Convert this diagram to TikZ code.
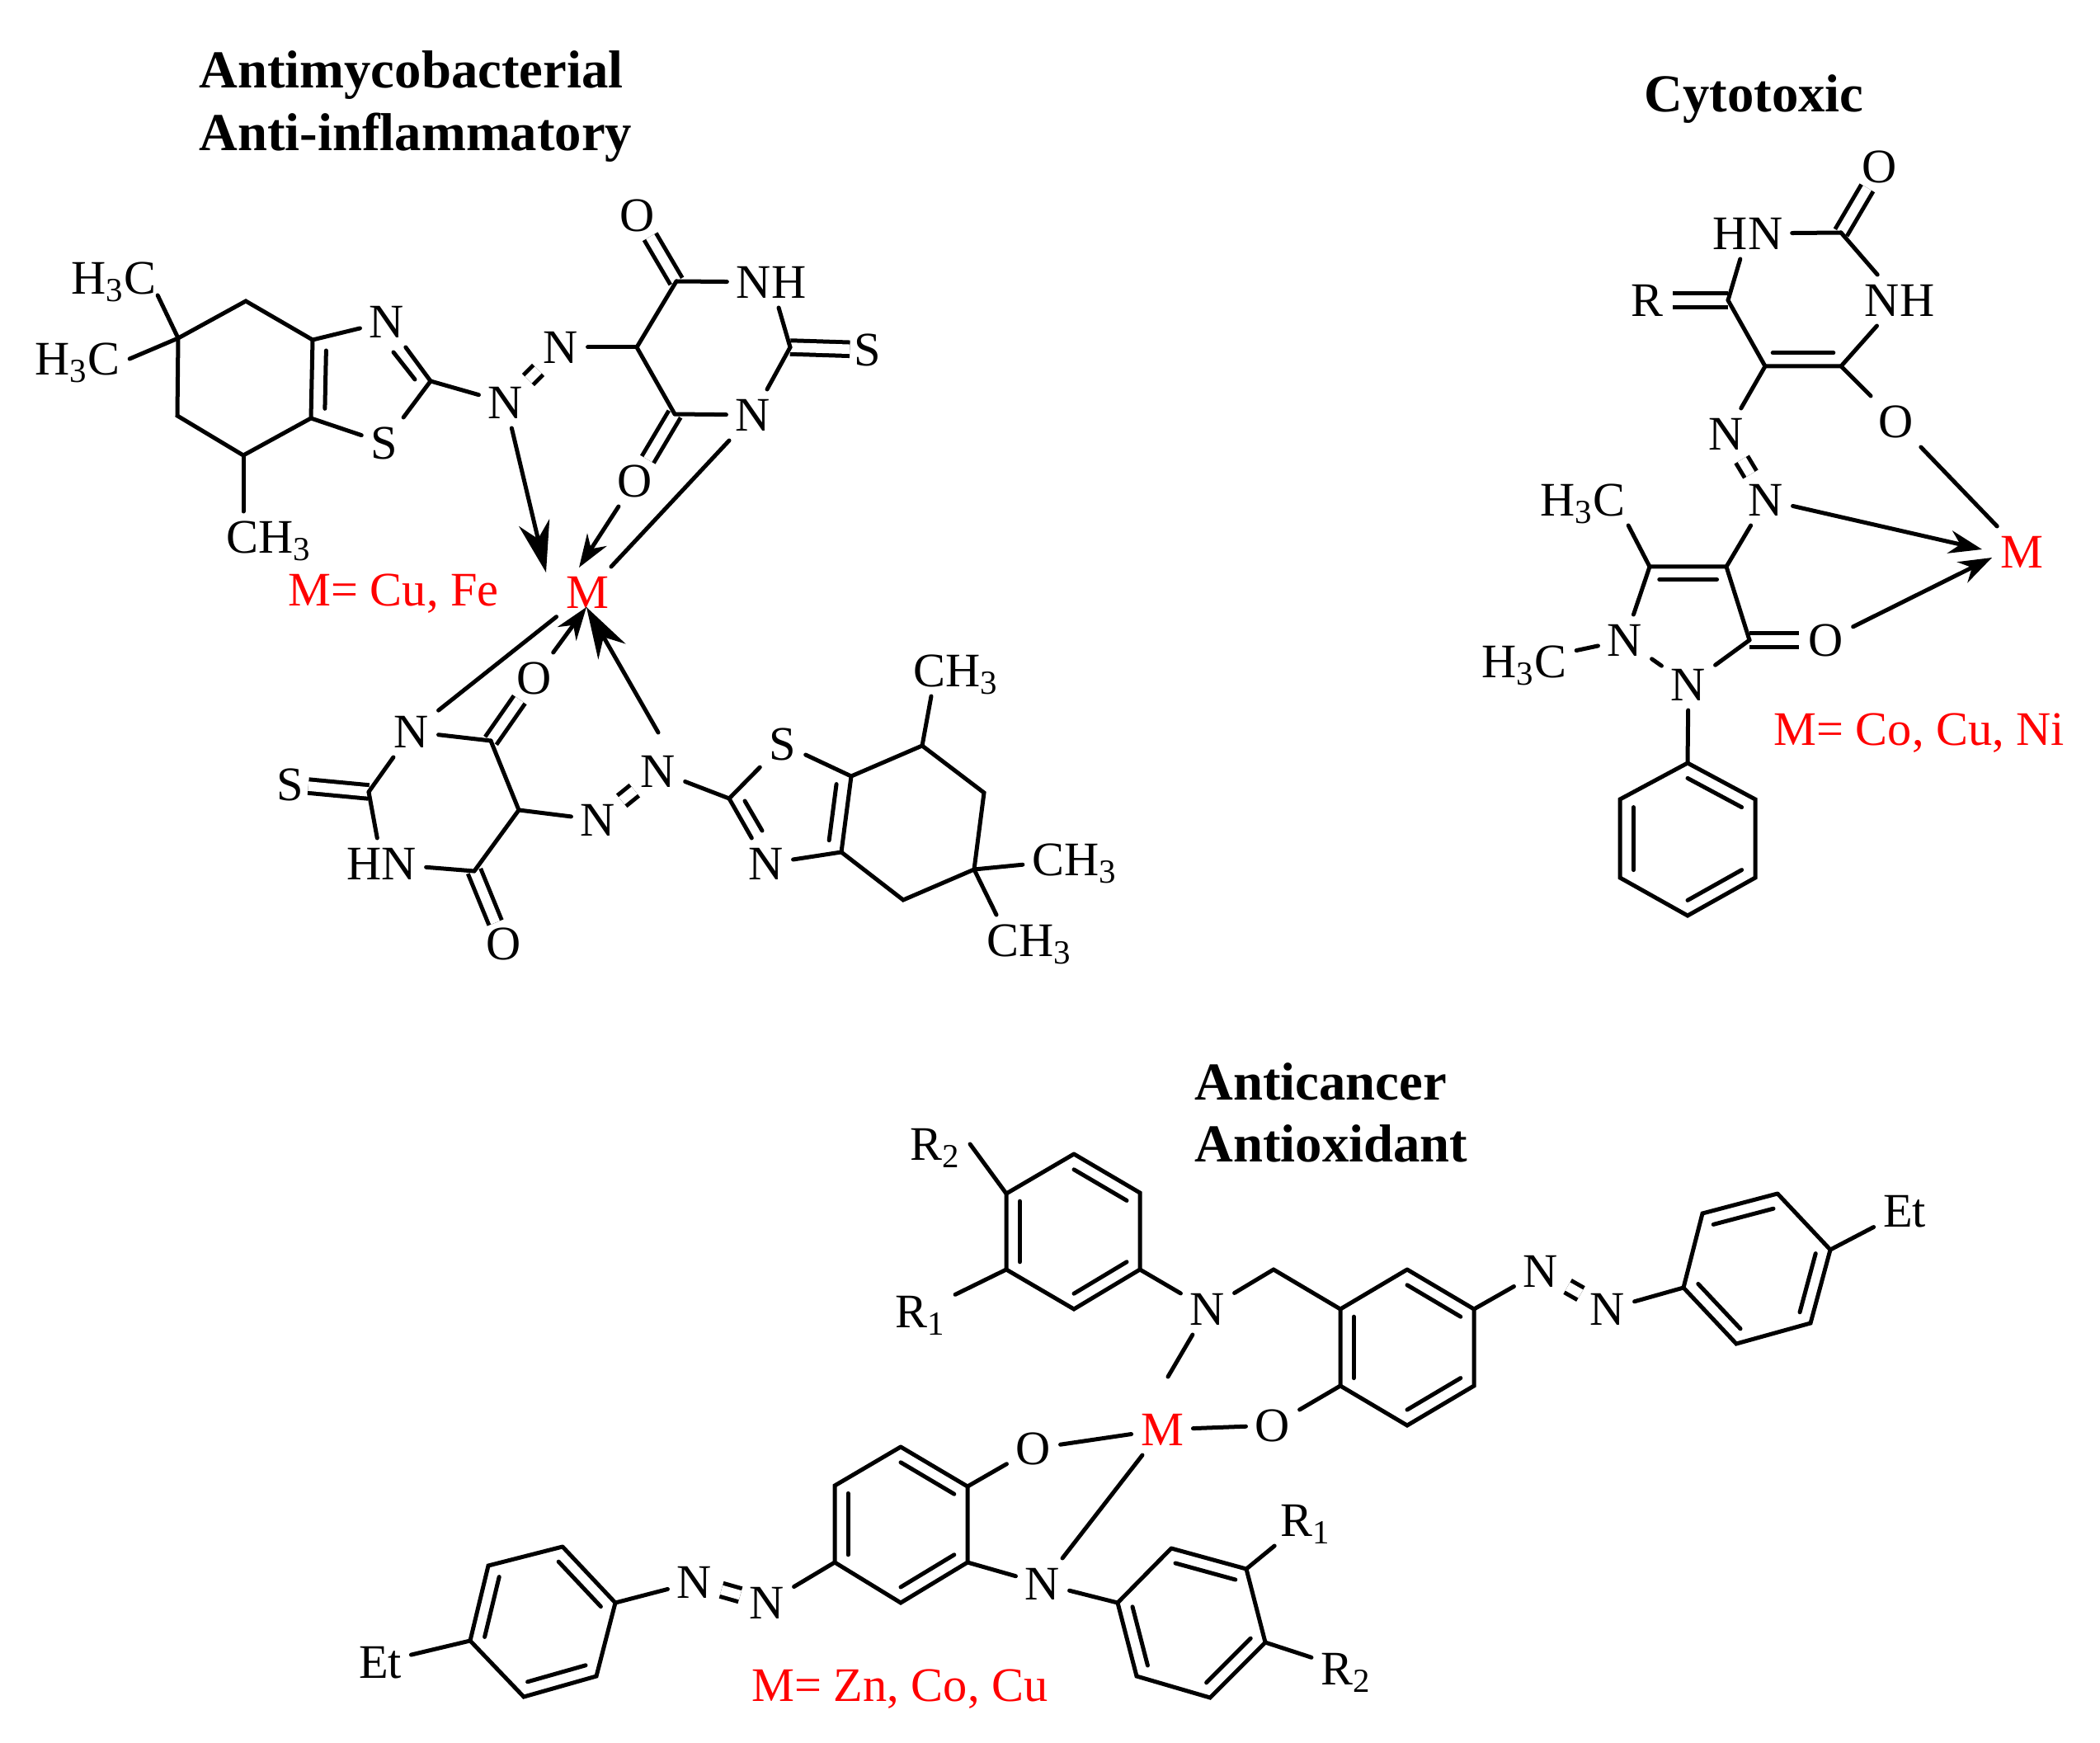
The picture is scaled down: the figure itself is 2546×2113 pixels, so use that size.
\documentclass[tikz,border=0pt]{standalone}
\usepackage{fontspec}
\setmainfont{Liberation Serif}
\usepackage{xcolor}
\usetikzlibrary{calc}
\usetikzlibrary{arrows.meta}
\tikzset{
	atom/.style={inner sep=0.09cm,text height=0.39cm,text depth=0cm,font=\fontsize{16.6}{19}\selectfont},
	metal/.style={atom,red},
	legend/.style={anchor=base west,inner sep=0pt,red,font=\fontsize{16.6}{19}\selectfont},
	title/.style={anchor=base west,inner sep=0pt,font=\fontsize{18.4}{22}\selectfont\bfseries},
	dbl/.style={double,double distance=0.115cm,line cap=butt},
	dblx/.style={dbl,shorten >=-0.06cm},
	azo/.style={dbl,shorten >=-0.05cm,shorten <=-0.05cm},
	bigtip/.style={-{Stealth[length=0.62cm,width=0.38cm]}},
	smalltip/.style={-{Stealth[length=0.4cm,width=0.28cm]}}
}
\begin{document}
\begin{tikzpicture}[x=0.01cm,y=-0.01cm,line width=0.05cm,line cap=round]
\useasboundingbox (0,0) rectangle (2546,2113);
\node[title] (T1) at (239,107) {Antimycobacterial};
\node[title] (T2) at (239,183) {Anti-inflammatory};
\node[title] (T3) at (1991,136) {Cytotoxic};
\node[title] (T4) at (1446,1333) {Anticancer};
\node[title] (T5) at (1446,1408) {Antioxidant};

\begin{scope}% complexe en haut a gauche
	\coordinate (A1) at (216,410);
	\coordinate (A2) at (298,365);
	\coordinate (A3) at (379,412);
	\coordinate (A4) at (377,507);
	\coordinate (A5) at (295,552);
	\coordinate (A6) at (215,504);
	\coordinate (A7) at (522,462);
	\coordinate (A8) at (772,421);
	\coordinate (A9) at (820,341);
	\coordinate (A10) at (958,421);
	\coordinate (A11) at (818,502);
	\coordinate (RA) at (442,462);
	\coordinate (IA) at (477,427);
	\coordinate (IB) at (503,460);
	\coordinate (TA) at (662,694);
	\coordinate (TB) at (702,688);
	\node[atom] (HA) at (138,337) {H\textsubscript{3}C};
	\node[atom] (HB) at (94,435) {H\textsubscript{3}C};
	\node[atom] (HC) at (326,651) {CH\textsubscript{3}};
	\node[atom] (NA) at (469,390) {N};
	\node[atom] (SA) at (466,537) {S};
	\node[atom] (NB) at (613,488) {N};
	\node[atom] (NC) at (680,421) {N};
	\node[atom] (OA) at (773,261) {O};
	\node[atom] (ND) at (935,342) {NH};
	\node[atom] (SB) at (1052,424) {S};
	\node[atom] (NE) at (913,503) {N};
	\node[atom] (OB) at (770,583) {O};
	\node[metal] (MA) at (712,718) {M};
	\node[legend] (LA) at (347,735) {M= Cu, Fe};
	\draw[azo] (NB)--(NC);
	\draw[dblx] (A9)--(OA);
	\draw[dblx] (A10)--(SB);
	\draw[dblx] (A11)--(OB);
	\draw (A1)--(A2)--(A3)--(A4)--(A5)--(A6)--(A1);
	\draw ($(A3)!.26!(RA)$)--($(A4)!.26!(RA)$);
	\draw (NA)--(A7);
	\draw (IA)--(IB);
	\draw (A1)--([shift={(-0.1cm,0.1cm)}]HA.south east);
	\draw (A1)--(HB.east);
	\draw (A5)--(A5 |- HC.north);
	\draw (A3)--(NA);
	\draw (A4)--(SA);
	\draw (SA)--(A7);
	\draw (A7)--(NB);
	\draw (NC)--(A8);
	\draw (A9)--(A8)--(A11);
	\draw (A9)--(ND);
	\draw (ND)--(A10);
	\draw (A10)--(NE);
	\draw (NE)--(A11);
	\draw[bigtip] (NB)--(TA);
	\draw[smalltip] (OB)--(TB);
	\draw (NE)--(MA);
\end{scope}

\begin{scope}% complexe du bas de la meme famille
	\coordinate (B1) at (1181,1054);
	\coordinate (B2) at (1193,961);
	\coordinate (B3) at (1118,904);
	\coordinate (B4) at (1032,941);
	\coordinate (B5) at (1020,1033);
	\coordinate (B6) at (1095,1091);
	\coordinate (B7) at (884,968);
	\coordinate (B8) at (629,982);
	\coordinate (B9) at (595,898);
	\coordinate (B10) at (447,960);
	\coordinate (B11) at (575,1056);
	\coordinate (RB) at (963,978);
	\coordinate (IC) at (903,971);
	\coordinate (ID) at (924,1007);
	\coordinate (TC) at (711,736);
	\node[atom] (HD) at (1159,813) {CH\textsubscript{3}};
	\node[atom] (HE) at (1303,1042) {CH\textsubscript{3}};
	\node[atom] (HF) at (1248,1140) {CH\textsubscript{3}};
	\node[atom] (SC) at (949,902) {S};
	\node[atom] (NF) at (929,1047) {N};
	\node[atom] (NG) at (798,935) {N};
	\node[atom] (NH) at (725,994) {N};
	\node[atom] (OC) at (648,822) {O};
	\node[atom] (NI) at (499,887) {N};
	\node[atom] (SD) at (352,951) {S};
	\node[atom] (NJ) at (463,1047) {HN};
	\node[atom] (OD) at (611,1144) {O};
	\draw[azo] (NG)--(NH);
	\draw[dblx] (B9)--(OC);
	\draw[dblx] (B10)--(SD);
	\draw[dblx] (B11)--(OD);
	\draw (B1)--(B2)--(B3)--(B4)--(B5)--(B6)--(B1);
	\draw ($(B4)!.26!(RB)$)--($(B5)!.26!(RB)$);
	\draw (B7)--(NF);
	\draw (IC)--(ID);
	\draw (B3)--([xshift=-0.3cm]HD.south);
	\draw (B1)--(HE);
	\draw (B1)--([xshift=-0.4cm]HF.north);
	\draw (B4)--(SC);
	\draw (SC)--(B7);
	\draw (NF)--(B5);
	\draw (B7)--(NG);
	\draw (NH)--(B8);
	\draw (B9)--(B8)--(B11);
	\draw (B9)--(NI);
	\draw (NI)--(B10);
	\draw (B10)--(NJ);
	\draw (NJ)--(B11);
	\draw[bigtip] ([yshift=0.16cm]NG.north)--(TC);
	\draw[smalltip] (OC)--(TC);
	\draw (NI)--(MA);
\end{scope}

\begin{scope}% complexe en haut a droite
	\coordinate (C1) at (2232,282);
	\coordinate (C2) at (2232,444);
	\coordinate (C3) at (2140,444);
	\coordinate (C4) at (2095,364);
	\coordinate (C5) at (2093,687);
	\coordinate (C6) at (2000,687);
	\coordinate (C7) at (2121,776);
	\coordinate (P1) at (2046,925);
	\coordinate (P2) at (2128,969);
	\coordinate (P3) at (2128,1064);
	\coordinate (P4) at (2046,1110);
	\coordinate (P5) at (1964,1064);
	\coordinate (P6) at (1964,969);
	\coordinate (RC) at (2186,363);
	\coordinate (RD) at (2047,749);
	\coordinate (RE) at (2046,1017);
	\coordinate (TD) at (2403,666);
	\coordinate (TE) at (2415,676);
	\node[atom] (OE) at (2279,202) {O};
	\node[atom] (NK) at (2119,283) {HN};
	\node[atom] (NL) at (2303,364) {NH};
	\node[atom] (RA1) at (1997,364) {R};
	\node[atom] (OF) at (2299,511) {O};
	\node[atom] (NM) at (2093,526) {N};
	\node[atom] (NN) at (2141,606) {N};
	\node[atom] (HG) at (1919,606) {H\textsubscript{3}C};
	\node[atom] (NO) at (1970,776) {N};
	\node[atom] (NP) at (2047,830) {N};
	\node[atom] (OG) at (2214,776) {O};
	\node[atom] (HH) at (1848,802) {H\textsubscript{3}C};
	\node[metal] (MB) at (2451,669) {M};
	\node[legend] (LB) at (2148,903) {M= Co, Cu, Ni};
	\draw[dblx] (C1)--(OE);
	\draw[dbl] (C4)--(RA1);
	\draw[dbl] (NM)--(NN);
	\draw[dbl] (C7)--(OG);
	\draw (C1)--(NK);
	\draw (NK)--(C4);
	\draw (C4)--(C3)--(C2);
	\draw (C1)--(NL);
	\draw (NL)--(C2);
	\draw ($(C3)!.2!(RC)$)--($(C2)!.2!(RC)$);
	\draw (C2)--(OF);
	\draw (C3)--(NM);
	\draw (NN)--(C5);
	\draw (C6)--(C5)--(C7);
	\draw ($(C6)!.25!(RD)$)--($(C5)!.25!(RD)$);
	\draw (C6)--([xshift=-0.08cm]HG.south east);
	\draw (C6)--(NO);
	\draw (NO)--(NP);
	\draw (NP)--(C7);
	\draw (NO)--(HH);
	\draw (NP)--(P1);
	\draw (P1)--(P2)--(P3)--(P4)--(P5)--(P6)--(P1);
	\foreach \a/\b in {P1/P2,P3/P4,P5/P6}
		\draw ($(\a)!.2!(RE)$)--($(\b)!.2!(RE)$);
	\draw[smalltip] (NN)--(TD);
	\draw[smalltip] (OG)--(TE);
	\draw (OF)--(MB);
\end{scope}

\begin{scope}% complexe du bas
	\coordinate (D1) at (1302,1399);
	\coordinate (D2) at (1382,1446);
	\coordinate (D3) at (1382,1539);
	\coordinate (D4) at (1302,1587);
	\coordinate (D5) at (1220,1539);
	\coordinate (D6) at (1220,1447);
	\coordinate (CH) at (1544,1539);
	\coordinate (E1) at (1706,1539);
	\coordinate (E2) at (1787,1587);
	\coordinate (E3) at (1787,1680);
	\coordinate (E4) at (1706,1728);
	\coordinate (E5) at (1625,1680);
	\coordinate (E6) at (1625,1587);
	\coordinate (F1) at (2155,1447);
	\coordinate (F2) at (2219,1515);
	\coordinate (F3) at (2195,1604);
	\coordinate (F4) at (2105,1629);
	\coordinate (F5) at (2041,1561);
	\coordinate (F6) at (2064,1471);
	\coordinate (G1) at (1092,1754);
	\coordinate (G2) at (1173,1802);
	\coordinate (G3) at (1173,1894);
	\coordinate (G4) at (1092,1943);
	\coordinate (G5) at (1012,1894);
	\coordinate (G6) at (1012,1801);
	\coordinate (K1) at (682,1875);
	\coordinate (K2) at (746,1943);
	\coordinate (K3) at (723,2032);
	\coordinate (K4) at (635,2057);
	\coordinate (K5) at (570,1989);
	\coordinate (K6) at (592,1898);
	\coordinate (L1) at (1420,1877);
	\coordinate (L2) at (1511,1902);
	\coordinate (L3) at (1534,1991);
	\coordinate (L4) at (1467,2058);
	\coordinate (L5) at (1378,2032);
	\coordinate (L6) at (1355,1943);
	\coordinate (RF) at (1302,1493);
	\coordinate (RG) at (1706,1633);
	\coordinate (RH) at (2130,1538);
	\coordinate (RI) at (1092,1848);
	\coordinate (RJ) at (658,1966);
	\coordinate (RK) at (1445,1967);
	\coordinate (TF) at (1416,1669);
	\node[atom] (RB2) at (1134,1387) {R\textsubscript{2}};
	\node[atom] (RB1) at (1116,1590) {R\textsubscript{1}};
	\node[atom] (NQ) at (1464,1587) {N};
	\node[atom] (NR) at (1868,1541) {N};
	\node[atom] (NS) at (1949,1587) {N};
	\node[atom] (EA) at (2309,1468) {Et};
	\node[metal] (MC) at (1409,1733) {M};
	\node[atom] (OH) at (1543,1728) {O};
	\node[atom] (OI) at (1253,1756) {O};
	\node[atom] (NT) at (1264,1920) {N};
	\node[atom] (NU) at (842,1918) {N};
	\node[atom] (NV) at (930,1943) {N};
	\node[atom] (EB) at (461,2015) {Et};
	\node[atom] (RC1) at (1583,1843) {R\textsubscript{1}};
	\node[atom] (RC2) at (1632,2023) {R\textsubscript{2}};
	\node[legend] (LC) at (909,2062) {M= Zn, Co, Cu};
	\draw[dbl] (NR)--(NS);
	\draw[dbl] (NU)--(NV);
	\draw (D1)--(D2)--(D3)--(D4)--(D5)--(D6)--(D1);
	\foreach \a/\b in {D1/D2,D3/D4,D5/D6}
		\draw ($(\a)!.2!(RF)$)--($(\b)!.2!(RF)$);
	\draw (E1)--(E2)--(E3)--(E4)--(E5)--(E6)--(E1);
	\foreach \a/\b in {E1/E2,E3/E4,E5/E6}
		\draw ($(\a)!.2!(RG)$)--($(\b)!.2!(RG)$);
	\draw (F1)--(F2)--(F3)--(F4)--(F5)--(F6)--(F1);
	\foreach \a/\b in {F6/F1,F2/F3,F4/F5}
		\draw ($(\a)!.2!(RH)$)--($(\b)!.2!(RH)$);
	\draw (G1)--(G2)--(G3)--(G4)--(G5)--(G6)--(G1);
	\foreach \a/\b in {G1/G2,G3/G4,G5/G6}
		\draw ($(\a)!.2!(RI)$)--($(\b)!.2!(RI)$);
	\draw (K1)--(K2)--(K3)--(K4)--(K5)--(K6)--(K1);
	\foreach \a/\b in {K1/K2,K3/K4,K5/K6}
		\draw ($(\a)!.2!(RJ)$)--($(\b)!.2!(RJ)$);
	\draw (L1)--(L2)--(L3)--(L4)--(L5)--(L6)--(L1);
	\foreach \a/\b in {L1/L2,L3/L4,L5/L6}
		\draw ($(\a)!.2!(RK)$)--($(\b)!.2!(RK)$);
	\draw (D6)--(RB2.east);
	\draw (D5)--(RB1);
	\draw (D3)--(NQ);
	\draw (NQ)--(CH);
	\draw (CH)--(E6);
	\draw (E2)--(NR);
	\draw (NS)--(F5);
	\draw (F2)--(EA);
	\draw (NQ)--(TF);
	\draw (E5)--(OH);
	\draw (OH)--(MC);
	\draw (MC)--(OI);
	\draw (OI)--(G2);
	\draw (MC)--(NT);
	\draw (G3)--(NT);
	\draw (NT)--(L6);
	\draw (G5)--(NV);
	\draw (NU)--(K2);
	\draw (K5)--(EB);
	\draw (L2)--(RC1);
	\draw (L3)--(RC2);
\end{scope}
\end{tikzpicture}
\end{document}
